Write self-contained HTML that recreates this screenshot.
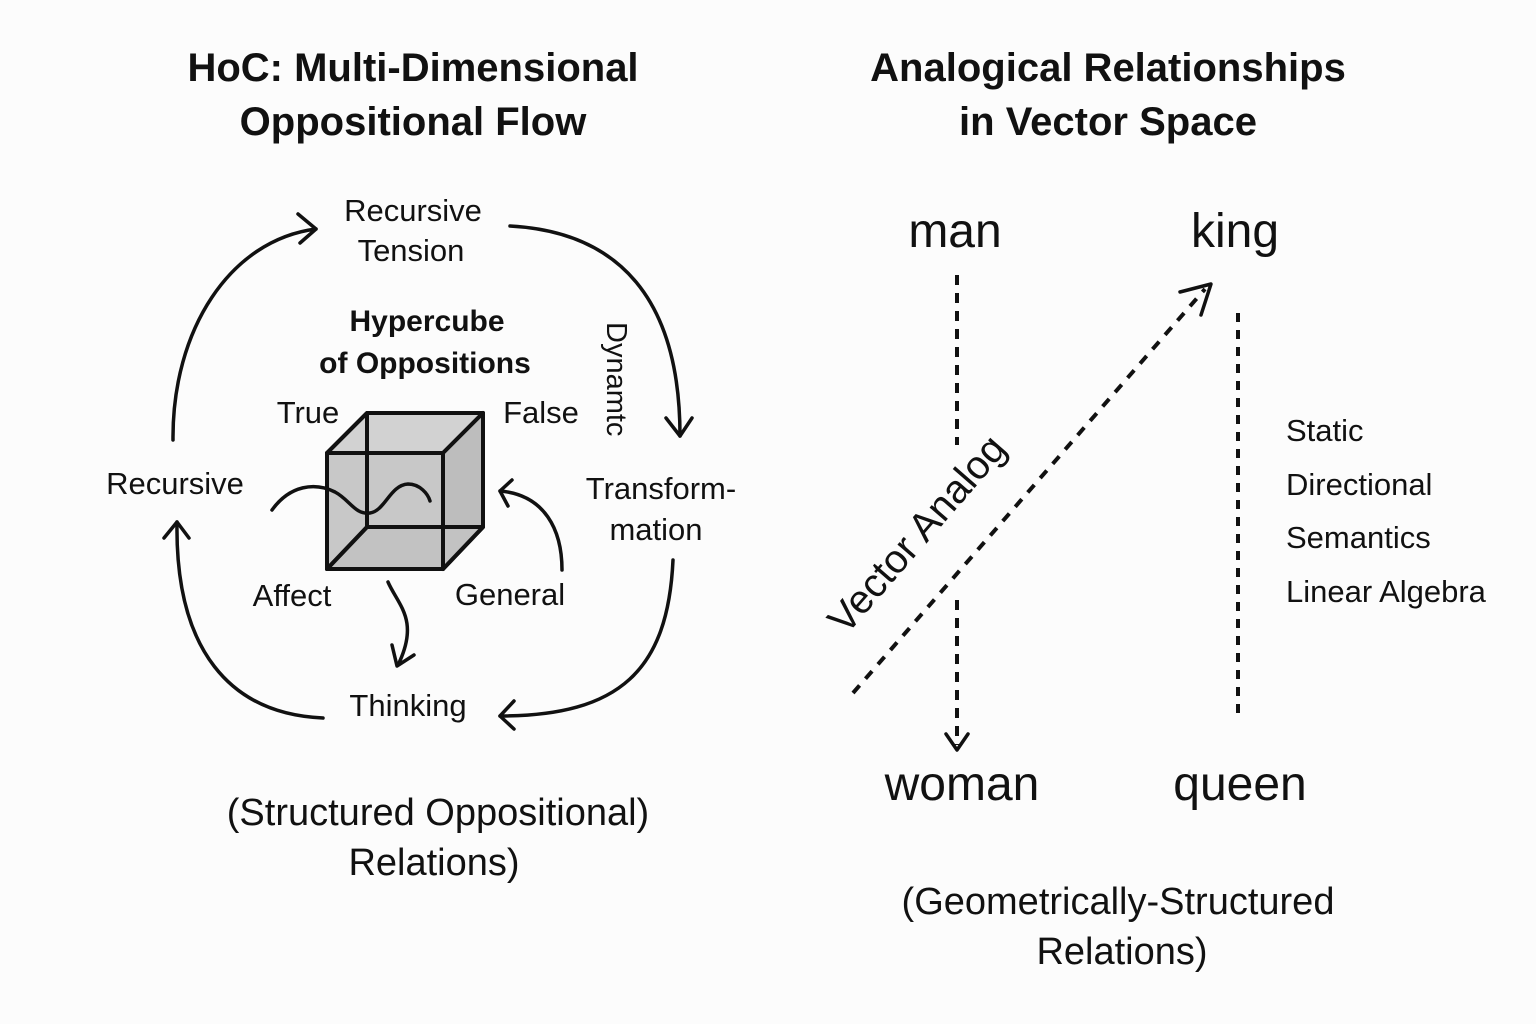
<!DOCTYPE html>
<html><head><meta charset="utf-8"><style>
html,body{margin:0;padding:0;background:#fcfcfc;}
svg{display:block;}
text{font-family:"Liberation Sans",sans-serif;fill:#111;}
</style></head><body>
<svg width="1536" height="1024" viewBox="0 0 1536 1024" xmlns="http://www.w3.org/2000/svg">
<rect width="1536" height="1024" fill="#fcfcfc"/>
<!-- Titles -->
<g font-weight="bold" font-size="40" text-anchor="middle">
<text x="413" y="81">HoC: Multi-Dimensional</text>
<text x="413" y="135">Oppositional Flow</text>
<text x="1108" y="81">Analogical Relationships</text>
<text x="1108" y="135">in Vector Space</text>
</g>
<!-- Left labels -->
<g font-size="31" text-anchor="middle">
<text x="413" y="221">Recursive</text>
<text x="411" y="261">Tension</text>
<text x="175" y="494">Recursive</text>
<text x="661" y="499">Transform-</text>
<text x="656" y="540">mation</text>
<text x="408" y="716">Thinking</text>
<text x="308" y="423">True</text>
<text x="541" y="423">False</text>
<text x="292" y="606">Affect</text>
<text x="510" y="605">General</text>
</g>
<g font-size="30" font-weight="bold" text-anchor="middle">
<text x="427" y="331">Hypercube</text>
<text x="425" y="373">of Oppositions</text>
</g>
<text font-size="29" transform="translate(607,322) rotate(90)">Dynamtc</text>
<g font-size="38" text-anchor="middle">
<text x="438" y="825">(Structured Oppositional)</text>
<text x="434" y="875">Relations)</text>
<text x="1118" y="914">(Geometrically-Structured</text>
<text x="1122" y="964">Relations)</text>
</g>
<!-- Cube -->
<g stroke="#111" stroke-width="4" stroke-linejoin="round">
<polygon points="327,453 367,413 483,413 483,527 443,569 327,569" fill="#c8c8c8"/>
<polygon points="367,413 483,413 443,453 327,453" fill="#d2d2d2"/>
<polygon points="443,453 483,413 483,527 443,569" fill="#bdbdbd"/>
<polygon points="327,569 367,527 483,527 443,569" fill="#c2c2c2"/>
<rect x="327" y="453" width="116" height="116" fill="none"/>
<line x1="367" y1="413" x2="367" y2="527"/>
<line x1="367" y1="527" x2="483" y2="527"/>
<line x1="327" y1="453" x2="367" y2="413"/>
<line x1="327" y1="569" x2="367" y2="527"/>
</g>
<path d="M272,510 C290,485 315,482 335,492 C350,500 355,515 370,513 C385,511 390,485 408,484 C420,484 428,494 430,501" fill="none" stroke="#111" stroke-width="3.5" stroke-linecap="round"/>
<!-- Cycle arrows -->
<g fill="none" stroke="#111" stroke-width="3.5" stroke-linecap="round" stroke-linejoin="round">
<path d="M173,440 C172,330 230,240 316,229"/>
<path d="M298,214 L316,229 L300,243"/>
<path d="M510,226 C620,232 680,300 680,436"/>
<path d="M666,418 L680,436 L692,418"/>
<path d="M673,560 C668,670 620,716 500,716"/>
<path d="M514,701 L500,716 L514,729"/>
<path d="M323,718 C230,714 175,650 177,522"/>
<path d="M164,538 L177,522 L189,538"/>
<path d="M562,570 C562,530 545,495 500,491"/>
<path d="M512,480 L500,491 L508,506"/>
<path d="M388,582 C398,605 420,620 398,665"/>
<path d="M392,645 L397,666 L414,655"/>
</g>
<!-- Right side -->
<g font-size="48" text-anchor="middle">
<text x="955" y="247">man</text>
<text x="1235" y="247">king</text>
<text x="962" y="800">woman</text>
<text x="1240" y="800">queen</text>
</g>
<g font-size="31">
<text x="1286" y="441">Static</text>
<text x="1286" y="495">Directional</text>
<text x="1286" y="548">Semantics</text>
<text x="1286" y="602">Linear Algebra</text>
</g>
<g fill="none" stroke="#111" stroke-width="4">
<line x1="957" y1="275" x2="957" y2="445" stroke-dasharray="10,8"/>
<line x1="957" y1="600" x2="957" y2="745" stroke-dasharray="10,8"/>
<line x1="1238" y1="313" x2="1238" y2="718" stroke-dasharray="9,8"/>
<line x1="853" y1="693" x2="1205" y2="289" stroke-dasharray="10,9"/>
</g>
<g fill="none" stroke="#111" stroke-width="3.5" stroke-linecap="round" stroke-linejoin="round">
<path d="M946,734 L957,750 L968,734"/>
<path d="M1180,292 L1211,284 L1201,315"/>
</g>
<text font-size="40" transform="translate(846,636) rotate(-49)">Vector Analog</text>
</svg>
</body></html>
